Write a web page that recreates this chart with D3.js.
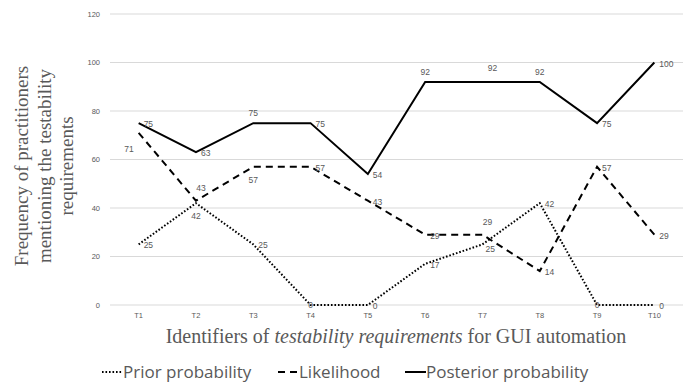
<!DOCTYPE html>
<html>
<head>
<meta charset="utf-8">
<script src="https://cdn.jsdelivr.net/npm/d3@7"></script>
<style>
  body { margin: 0; background: #fff; }
  svg { display: block; }
</style>
</head>
<body>
<div id="container"></div>
<script>
// chart data
const categories = ["T1", "T2", "T3", "T4", "T5", "T6", "T7", "T8", "T9", "T10"];
const priorValues = [25, 42, 25, 0, 0, 17, 25, 42, 0, 0];
const likelihoodValues = [71, 43, 57, 57, 43, 29, 29, 14, 57, 29];
const posteriorValues = [75, 63, 75, 75, 54, 92, 92, 92, 75, 100];
const yTicks = [0, 20, 40, 60, 80, 100, 120];
const seriesNames = ["Prior probability", "Likelihood", "Posterior probability"];

// where each data label sits relative to its point
const priorPlace = ["r", "b", "r", "c", "r", "r", "rb", "r", "c", "r"];
const likelihoodPlace = ["l", "ar", "b", "r", "r", "r", "ar", "r", "r", "r"];
const posteriorPlace = ["r", "r", "a", "r", "r", "a", "ar2", "a", "r", "r"];

const width = 689, height = 385;
const plotLeft = 110, plotRight = 683, plotTop = 14, plotBottom = 305;

const svg = d3.select("#container")
    .append("svg")
    .attr("width", width)
    .attr("height", height);

const x = d3.scaleBand().domain(categories).range([plotLeft, plotRight]);
const y = d3.scaleLinear().domain([0, 120]).range([plotBottom, plotTop]);
const cx = d => x(d) + x.bandwidth() / 2;

// gridlines
svg.append("g")
    .selectAll("line")
    .data(yTicks)
    .enter()
    .append("line")
    .attr("x1", plotLeft)
    .attr("x2", plotRight)
    .attr("y1", d => y(d))
    .attr("y2", d => y(d))
    .attr("stroke", "#d9d9d9")
    .attr("stroke-width", 1);

// y axis labels
const yAxis = svg.append("g")
    .attr("transform", `translate(${plotLeft - 10},0)`)
    .call(d3.axisLeft(y).tickValues(yTicks).tickSize(0).tickPadding(0));
yAxis.select(".domain").remove();
yAxis.selectAll("text")
    .attr("font-family", "'Liberation Sans', Arial, sans-serif")
    .attr("font-size", 7.5)
    .attr("fill", "#595959");

// x axis labels
const xAxis = svg.append("g")
    .attr("transform", `translate(0,${plotBottom + 8})`)
    .call(d3.axisBottom(x).tickSize(0).tickPadding(0));
xAxis.select(".domain").remove();
xAxis.selectAll("text")
    .attr("font-family", "'Liberation Sans', Arial, sans-serif")
    .attr("font-size", 7.5)
    .attr("fill", "#595959");

// series
const series = [
    {name: seriesNames[0], values: priorValues, place: priorPlace, dash: "1.6,1.9"},
    {name: seriesNames[1], values: likelihoodValues, place: likelihoodPlace, dash: "7,5"},
    {name: seriesNames[2], values: posteriorValues, place: posteriorPlace, dash: null}
];

const line = d3.line()
    .x((d, i) => cx(categories[i]))
    .y(d => y(d));

series.forEach(s => {
    svg.append("path")
        .datum(s.values)
        .attr("d", line)
        .attr("fill", "none")
        .attr("stroke", "#000")
        .attr("stroke-width", 2)
        .attr("stroke-dasharray", s.dash);
});

// data labels (dx, dy, anchor)
const offsets = {
    r: [5, 4, "start"],
    rb: [3, 8, "start"],
    a: [0, -7, "middle"],
    ar: [5, -10, "middle"],
    ar2: [10, -11, "middle"],
    b: [0, 16, "middle"],
    l: [-5, 19, "end"],
    c: [0, 3, "middle"]
};

series.forEach(s => {
    svg.append("g")
        .selectAll("text")
        .data(s.values)
        .enter()
        .append("text")
        .attr("x", (d, i) => cx(categories[i]) + offsets[s.place[i]][0])
        .attr("y", (d, i) => y(d) + offsets[s.place[i]][1])
        .attr("text-anchor", (d, i) => offsets[s.place[i]][2])
        .attr("font-family", "'Liberation Sans', Arial, sans-serif")
        .attr("font-size", 8.5)
        .attr("fill", "#595959")
        .text(d => d);
});

// axis titles
svg.append("text")
    .attr("x", 396)
    .attr("y", 343)
    .attr("text-anchor", "middle")
    .attr("font-family", "'Liberation Serif', 'Times New Roman', serif")
    .attr("font-size", 20)
    .attr("fill", "#595959")
    .call(t => {
        t.append("tspan").text("Identifiers of ");
        t.append("tspan").attr("font-style", "italic").text("testability requirements");
        t.append("tspan").text(" for GUI automation");
    });

const yTitle = ["Frequency of practitioners", "mentioning the testability", "requirements"];
svg.append("g")
    .attr("transform", "translate(28,166) rotate(-90)")
    .selectAll("text")
    .data(yTitle)
    .enter()
    .append("text")
    .attr("x", 0)
    .attr("y", (d, i) => i * 22.5)
    .attr("text-anchor", "middle")
    .attr("font-family", "'Liberation Serif', 'Times New Roman', serif")
    .attr("font-size", 19)
    .attr("fill", "#595959")
    .text(d => d);

// legend
const legendX = [102, 278, 405];
const legend = svg.append("g")
    .selectAll("g")
    .data(series)
    .enter()
    .append("g")
    .attr("transform", (d, i) => `translate(${legendX[i]},372)`);

legend.append("line")
    .attr("x1", 0)
    .attr("x2", 21)
    .attr("y1", 0)
    .attr("y2", 0)
    .attr("stroke", "#000")
    .attr("stroke-width", 2)
    .attr("stroke-dasharray", d => d.dash);

legend.append("text")
    .attr("x", 21)
    .attr("y", 6)
    .attr("font-family", "'Open Sans', 'Liberation Sans', sans-serif")
    .attr("font-size", 17)
    .attr("fill", "#595959")
    .text(d => d.name);
</script>
</body>
</html>
